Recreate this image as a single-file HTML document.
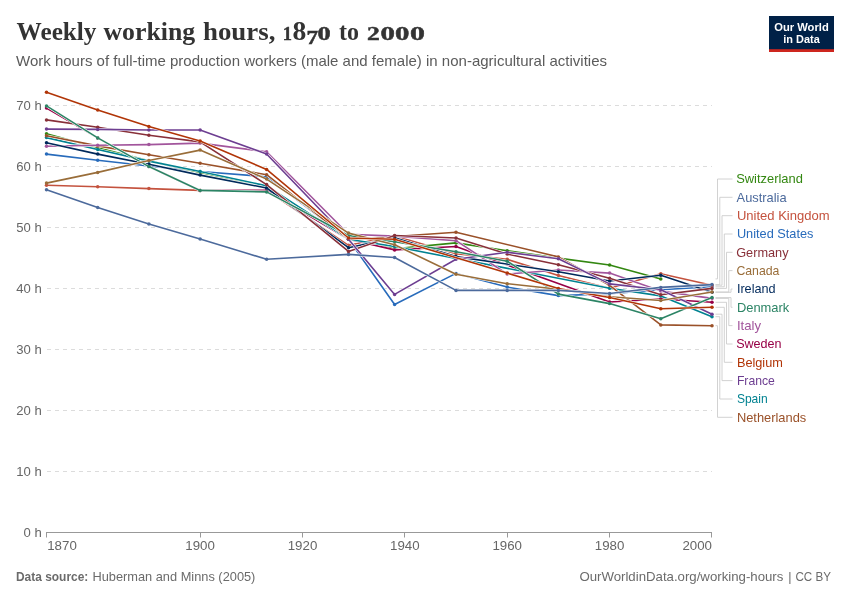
<!DOCTYPE html>
<html><head><meta charset="utf-8"><title>Weekly working hours, 1870 to 2000</title>
<style>
html,body{margin:0;padding:0;background:#fff;}
body{width:850px;height:600px;overflow:hidden;font-family:"Liberation Sans",sans-serif;}
svg{display:block;will-change:transform;}
text{font-family:"Liberation Sans",sans-serif;}
.ttl{font-family:"Liberation Serif",serif;font-weight:bold;fill:#333;}
.sub{font-size:14.6px;fill:#5b5b5b;}
.ax{font-size:13.1px;fill:#666;}
.lg{font-size:13px;}
.ft{font-size:12.6px;fill:#6b6b6b;}
</style></head><body>
<svg width="850" height="600" viewBox="0 0 850 600">
<rect width="850" height="600" fill="#fff"/>
<text class="ttl" x="16.6" y="40.0" font-size="26.2" textLength="79.9" lengthAdjust="spacingAndGlyphs">Weekly</text><text class="ttl" x="103.5" y="40.0" font-size="26.2" textLength="91.6" lengthAdjust="spacingAndGlyphs">working</text><text class="ttl" x="203.0" y="40.0" font-size="26.2" textLength="72.4" lengthAdjust="spacingAndGlyphs">hours,</text><text class="ttl" x="282.7" y="40.0" font-size="19.8" stroke="#333" stroke-width="0.45" textLength="9.2" lengthAdjust="spacingAndGlyphs">1</text><text class="ttl" x="292.6" y="40.1" font-size="27.6" textLength="13.8" lengthAdjust="spacingAndGlyphs">8</text><text class="ttl" x="306.4" y="44.0" font-size="19.8" stroke="#333" stroke-width="0.45" textLength="11.6" lengthAdjust="spacingAndGlyphs">7</text><text class="ttl" x="317.6" y="40.0" font-size="19.8" stroke="#333" stroke-width="0.45" textLength="13.2" lengthAdjust="spacingAndGlyphs">0</text><text class="ttl" x="339.0" y="40.0" font-size="26.2" textLength="20.0" lengthAdjust="spacingAndGlyphs">to</text><text class="ttl" x="367.0" y="40.0" font-size="19.8" stroke="#333" stroke-width="0.45" textLength="12.8" lengthAdjust="spacingAndGlyphs">2</text><text class="ttl" x="380.4" y="40.0" font-size="19.8" stroke="#333" stroke-width="0.45" textLength="14.4" lengthAdjust="spacingAndGlyphs">0</text><text class="ttl" x="395.1" y="40.0" font-size="19.8" stroke="#333" stroke-width="0.45" textLength="14.4" lengthAdjust="spacingAndGlyphs">0</text><text class="ttl" x="409.9" y="40.0" font-size="19.8" stroke="#333" stroke-width="0.45" textLength="14.9" lengthAdjust="spacingAndGlyphs">0</text>
<text class="sub" x="16" y="66.4" textLength="591" lengthAdjust="spacingAndGlyphs">Work hours of full-time production workers (male and female) in non-agricultural activities</text>
<g><rect x="769" y="16" width="65" height="36" fill="#002147"/><rect x="769" y="49.2" width="65" height="2.8" fill="#ce261e"/><text x="801.5" y="30.6" text-anchor="middle" font-size="11.4" font-weight="bold" fill="#fff" textLength="54.5" lengthAdjust="spacingAndGlyphs">Our World</text><text x="801.5" y="42.6" text-anchor="middle" font-size="11.4" font-weight="bold" fill="#fff" textLength="36.5" lengthAdjust="spacingAndGlyphs">in Data</text></g>
<line x1="47" x2="712" y1="471.5" y2="471.5" stroke="#dcdcdc" stroke-width="1" stroke-dasharray="4,4"/>
<line x1="47" x2="712" y1="410.5" y2="410.5" stroke="#dcdcdc" stroke-width="1" stroke-dasharray="4,4"/>
<line x1="47" x2="712" y1="349.5" y2="349.5" stroke="#dcdcdc" stroke-width="1" stroke-dasharray="4,4"/>
<line x1="47" x2="712" y1="288.5" y2="288.5" stroke="#dcdcdc" stroke-width="1" stroke-dasharray="4,4"/>
<line x1="47" x2="712" y1="227.5" y2="227.5" stroke="#dcdcdc" stroke-width="1" stroke-dasharray="4,4"/>
<line x1="47" x2="712" y1="166.5" y2="166.5" stroke="#dcdcdc" stroke-width="1" stroke-dasharray="4,4"/>
<line x1="47" x2="712" y1="105.5" y2="105.5" stroke="#dcdcdc" stroke-width="1" stroke-dasharray="4,4"/>
<text class="ax" x="41.7" y="536.5" text-anchor="end">0 h</text>
<text class="ax" x="41.7" y="475.5" text-anchor="end">10 h</text>
<text class="ax" x="41.7" y="414.5" text-anchor="end">20 h</text>
<text class="ax" x="41.7" y="353.5" text-anchor="end">30 h</text>
<text class="ax" x="41.7" y="292.5" text-anchor="end">40 h</text>
<text class="ax" x="41.7" y="231.5" text-anchor="end">50 h</text>
<text class="ax" x="41.7" y="170.5" text-anchor="end">60 h</text>
<text class="ax" x="41.7" y="109.5" text-anchor="end">70 h</text>
<line x1="46" x2="712" y1="532.5" y2="532.5" stroke="#999" stroke-width="1"/>
<line x1="46.5" x2="46.5" y1="532" y2="537.5" stroke="#999" stroke-width="1"/>
<text class="ax" x="47.2" y="550.3" text-anchor="start" textLength="29.6" lengthAdjust="spacingAndGlyphs">1870</text>
<line x1="200.5" x2="200.5" y1="532" y2="537.5" stroke="#999" stroke-width="1"/>
<text class="ax" x="200.1" y="550.3" text-anchor="middle" textLength="29.6" lengthAdjust="spacingAndGlyphs">1900</text>
<line x1="302.5" x2="302.5" y1="532" y2="537.5" stroke="#999" stroke-width="1"/>
<text class="ax" x="302.5" y="550.3" text-anchor="middle" textLength="29.6" lengthAdjust="spacingAndGlyphs">1920</text>
<line x1="404.5" x2="404.5" y1="532" y2="537.5" stroke="#999" stroke-width="1"/>
<text class="ax" x="404.8" y="550.3" text-anchor="middle" textLength="29.6" lengthAdjust="spacingAndGlyphs">1940</text>
<line x1="507.5" x2="507.5" y1="532" y2="537.5" stroke="#999" stroke-width="1"/>
<text class="ax" x="507.2" y="550.3" text-anchor="middle" textLength="29.6" lengthAdjust="spacingAndGlyphs">1960</text>
<line x1="609.5" x2="609.5" y1="532" y2="537.5" stroke="#999" stroke-width="1"/>
<text class="ax" x="609.6" y="550.3" text-anchor="middle" textLength="29.6" lengthAdjust="spacingAndGlyphs">1980</text>
<line x1="711.5" x2="711.5" y1="532" y2="537.5" stroke="#999" stroke-width="1"/>
<text class="ax" x="712.0" y="550.3" text-anchor="end" textLength="29.6" lengthAdjust="spacingAndGlyphs">2000</text>
<g><path d="M46.5,154.1 L97.7,160.2 L148.9,166.0 L200.1,171.5 L266.6,176.7 L348.5,239.2 L394.6,304.5 L456.0,273.4 L507.2,287.1 L558.4,295.6 L609.6,293.8 L660.8,289.8 L712.0,286.8" fill="none" stroke="#fff" stroke-width="2.6" stroke-linejoin="round" stroke-linecap="butt"/><path d="M46.5,154.1 L97.7,160.2 L148.9,166.0 L200.1,171.5 L266.6,176.7 L348.5,239.2 L394.6,304.5 L456.0,273.4 L507.2,287.1 L558.4,295.6 L609.6,293.8 L660.8,289.8 L712.0,286.8" fill="none" stroke="#286BBB" stroke-width="1.6" stroke-linejoin="round" stroke-linecap="butt"/><circle cx="46.5" cy="154.1" r="1.75" fill="#286BBB"/><circle cx="97.7" cy="160.2" r="1.75" fill="#286BBB"/><circle cx="148.9" cy="166.0" r="1.75" fill="#286BBB"/><circle cx="200.1" cy="171.5" r="1.75" fill="#286BBB"/><circle cx="266.6" cy="176.7" r="1.75" fill="#286BBB"/><circle cx="348.5" cy="239.2" r="1.75" fill="#286BBB"/><circle cx="394.6" cy="304.5" r="1.75" fill="#286BBB"/><circle cx="456.0" cy="273.4" r="1.75" fill="#286BBB"/><circle cx="507.2" cy="287.1" r="1.75" fill="#286BBB"/><circle cx="558.4" cy="295.6" r="1.75" fill="#286BBB"/><circle cx="609.6" cy="293.8" r="1.75" fill="#286BBB"/><circle cx="660.8" cy="289.8" r="1.75" fill="#286BBB"/><circle cx="712.0" cy="286.8" r="1.75" fill="#286BBB"/></g>
<g><path d="M46.5,185.2 L97.7,186.7 L148.9,188.6 L200.1,190.4 L266.6,190.4 L348.5,245.3 L394.6,236.1 L456.0,253.8 L507.2,259.3 L558.4,275.5 L609.6,288.2 L660.8,273.7 L712.0,285.2" fill="none" stroke="#fff" stroke-width="2.6" stroke-linejoin="round" stroke-linecap="butt"/><path d="M46.5,185.2 L97.7,186.7 L148.9,188.6 L200.1,190.4 L266.6,190.4 L348.5,245.3 L394.6,236.1 L456.0,253.8 L507.2,259.3 L558.4,275.5 L609.6,288.2 L660.8,273.7 L712.0,285.2" fill="none" stroke="#C4523E" stroke-width="1.6" stroke-linejoin="round" stroke-linecap="butt"/><circle cx="46.5" cy="185.2" r="1.75" fill="#C4523E"/><circle cx="97.7" cy="186.7" r="1.75" fill="#C4523E"/><circle cx="148.9" cy="188.6" r="1.75" fill="#C4523E"/><circle cx="200.1" cy="190.4" r="1.75" fill="#C4523E"/><circle cx="266.6" cy="190.4" r="1.75" fill="#C4523E"/><circle cx="348.5" cy="245.3" r="1.75" fill="#C4523E"/><circle cx="394.6" cy="236.1" r="1.75" fill="#C4523E"/><circle cx="456.0" cy="253.8" r="1.75" fill="#C4523E"/><circle cx="507.2" cy="259.3" r="1.75" fill="#C4523E"/><circle cx="558.4" cy="275.5" r="1.75" fill="#C4523E"/><circle cx="609.6" cy="288.2" r="1.75" fill="#C4523E"/><circle cx="660.8" cy="273.7" r="1.75" fill="#C4523E"/><circle cx="712.0" cy="285.2" r="1.75" fill="#C4523E"/></g>
<g><path d="M46.5,133.7 L97.7,147.7 L148.9,160.8 L200.1,172.4 L266.6,186.4 L348.5,239.2 L394.6,248.7 L456.0,242.9 L507.2,250.8 L558.4,258.1 L609.6,265.0 L660.8,278.9" fill="none" stroke="#fff" stroke-width="2.6" stroke-linejoin="round" stroke-linecap="butt"/><path d="M46.5,133.7 L97.7,147.7 L148.9,160.8 L200.1,172.4 L266.6,186.4 L348.5,239.2 L394.6,248.7 L456.0,242.9 L507.2,250.8 L558.4,258.1 L609.6,265.0 L660.8,278.9" fill="none" stroke="#338711" stroke-width="1.6" stroke-linejoin="round" stroke-linecap="butt"/><circle cx="46.5" cy="133.7" r="1.75" fill="#338711"/><circle cx="97.7" cy="147.7" r="1.75" fill="#338711"/><circle cx="148.9" cy="160.8" r="1.75" fill="#338711"/><circle cx="200.1" cy="172.4" r="1.75" fill="#338711"/><circle cx="266.6" cy="186.4" r="1.75" fill="#338711"/><circle cx="348.5" cy="239.2" r="1.75" fill="#338711"/><circle cx="394.6" cy="248.7" r="1.75" fill="#338711"/><circle cx="456.0" cy="242.9" r="1.75" fill="#338711"/><circle cx="507.2" cy="250.8" r="1.75" fill="#338711"/><circle cx="558.4" cy="258.1" r="1.75" fill="#338711"/><circle cx="609.6" cy="265.0" r="1.75" fill="#338711"/><circle cx="660.8" cy="278.9" r="1.75" fill="#338711"/></g>
<g><path d="M46.5,108.1 L97.7,137.9 L148.9,166.6 L200.1,190.4 L266.6,190.4 L348.5,239.2 L394.6,249.9 L456.0,246.5 L609.6,302.0 L660.8,299.0 L712.0,302.3" fill="none" stroke="#fff" stroke-width="2.6" stroke-linejoin="round" stroke-linecap="butt"/><path d="M46.5,108.1 L97.7,137.9 L148.9,166.6 L200.1,190.4 L266.6,190.4 L348.5,239.2 L394.6,249.9 L456.0,246.5 L609.6,302.0 L660.8,299.0 L712.0,302.3" fill="none" stroke="#970046" stroke-width="1.6" stroke-linejoin="round" stroke-linecap="butt"/><circle cx="46.5" cy="108.1" r="1.75" fill="#970046"/><circle cx="97.7" cy="137.9" r="1.75" fill="#970046"/><circle cx="148.9" cy="166.6" r="1.75" fill="#970046"/><circle cx="200.1" cy="190.4" r="1.75" fill="#970046"/><circle cx="266.6" cy="190.4" r="1.75" fill="#970046"/><circle cx="348.5" cy="239.2" r="1.75" fill="#970046"/><circle cx="394.6" cy="249.9" r="1.75" fill="#970046"/><circle cx="456.0" cy="246.5" r="1.75" fill="#970046"/><circle cx="609.6" cy="302.0" r="1.75" fill="#970046"/><circle cx="660.8" cy="299.0" r="1.75" fill="#970046"/><circle cx="712.0" cy="302.3" r="1.75" fill="#970046"/></g>
<g><path d="M46.5,137.6 L97.7,149.5 L148.9,161.1 L200.1,171.5 L266.6,185.8 L348.5,239.2 L394.6,246.5 L609.6,288.3 L660.8,295.9 L712.0,316.7" fill="none" stroke="#fff" stroke-width="2.6" stroke-linejoin="round" stroke-linecap="butt"/><path d="M46.5,137.6 L97.7,149.5 L148.9,161.1 L200.1,171.5 L266.6,185.8 L348.5,239.2 L394.6,246.5 L609.6,288.3 L660.8,295.9 L712.0,316.7" fill="none" stroke="#008291" stroke-width="1.6" stroke-linejoin="round" stroke-linecap="butt"/><circle cx="46.5" cy="137.6" r="1.75" fill="#008291"/><circle cx="97.7" cy="149.5" r="1.75" fill="#008291"/><circle cx="148.9" cy="161.1" r="1.75" fill="#008291"/><circle cx="200.1" cy="171.5" r="1.75" fill="#008291"/><circle cx="266.6" cy="185.8" r="1.75" fill="#008291"/><circle cx="348.5" cy="239.2" r="1.75" fill="#008291"/><circle cx="394.6" cy="246.5" r="1.75" fill="#008291"/><circle cx="609.6" cy="288.3" r="1.75" fill="#008291"/><circle cx="660.8" cy="295.9" r="1.75" fill="#008291"/><circle cx="712.0" cy="316.7" r="1.75" fill="#008291"/></g>
<g><path d="M46.5,135.8 L97.7,145.9 L148.9,154.7 L200.1,163.3 L266.6,174.7 L348.5,239.2 L394.6,236.5 L456.0,232.2 L558.4,256.9 L609.6,285.3 L660.8,324.9 L712.0,325.7" fill="none" stroke="#fff" stroke-width="2.6" stroke-linejoin="round" stroke-linecap="butt"/><path d="M46.5,135.8 L97.7,145.9 L148.9,154.7 L200.1,163.3 L266.6,174.7 L348.5,239.2 L394.6,236.5 L456.0,232.2 L558.4,256.9 L609.6,285.3 L660.8,324.9 L712.0,325.7" fill="none" stroke="#9A5129" stroke-width="1.6" stroke-linejoin="round" stroke-linecap="butt"/><circle cx="46.5" cy="135.8" r="1.75" fill="#9A5129"/><circle cx="97.7" cy="145.9" r="1.75" fill="#9A5129"/><circle cx="148.9" cy="154.7" r="1.75" fill="#9A5129"/><circle cx="200.1" cy="163.3" r="1.75" fill="#9A5129"/><circle cx="266.6" cy="174.7" r="1.75" fill="#9A5129"/><circle cx="348.5" cy="239.2" r="1.75" fill="#9A5129"/><circle cx="394.6" cy="236.5" r="1.75" fill="#9A5129"/><circle cx="456.0" cy="232.2" r="1.75" fill="#9A5129"/><circle cx="558.4" cy="256.9" r="1.75" fill="#9A5129"/><circle cx="609.6" cy="285.3" r="1.75" fill="#9A5129"/><circle cx="660.8" cy="324.9" r="1.75" fill="#9A5129"/><circle cx="712.0" cy="325.7" r="1.75" fill="#9A5129"/></g>
<g><path d="M46.5,146.2 L97.7,145.3 L148.9,144.6 L200.1,143.1 L266.6,151.7 L348.5,234.3 L394.6,236.1 L456.0,240.7 L507.2,274.0 L558.4,270.0 L609.6,273.1 L660.8,291.1 L712.0,298.4" fill="none" stroke="#fff" stroke-width="2.6" stroke-linejoin="round" stroke-linecap="butt"/><path d="M46.5,146.2 L97.7,145.3 L148.9,144.6 L200.1,143.1 L266.6,151.7 L348.5,234.3 L394.6,236.1 L456.0,240.7 L507.2,274.0 L558.4,270.0 L609.6,273.1 L660.8,291.1 L712.0,298.4" fill="none" stroke="#A2559C" stroke-width="1.6" stroke-linejoin="round" stroke-linecap="butt"/><circle cx="46.5" cy="146.2" r="1.75" fill="#A2559C"/><circle cx="97.7" cy="145.3" r="1.75" fill="#A2559C"/><circle cx="148.9" cy="144.6" r="1.75" fill="#A2559C"/><circle cx="200.1" cy="143.1" r="1.75" fill="#A2559C"/><circle cx="266.6" cy="151.7" r="1.75" fill="#A2559C"/><circle cx="348.5" cy="234.3" r="1.75" fill="#A2559C"/><circle cx="394.6" cy="236.1" r="1.75" fill="#A2559C"/><circle cx="456.0" cy="240.7" r="1.75" fill="#A2559C"/><circle cx="507.2" cy="274.0" r="1.75" fill="#A2559C"/><circle cx="558.4" cy="270.0" r="1.75" fill="#A2559C"/><circle cx="609.6" cy="273.1" r="1.75" fill="#A2559C"/><circle cx="660.8" cy="291.1" r="1.75" fill="#A2559C"/><circle cx="712.0" cy="298.4" r="1.75" fill="#A2559C"/></g>
<g><path d="M46.5,142.8 L97.7,154.1 L148.9,164.2 L200.1,175.1 L266.6,188.0 L348.5,247.7 L394.6,237.7 L456.0,256.6 L558.4,271.7 L609.6,281.0 L660.8,275.2 L712.0,292.3" fill="none" stroke="#fff" stroke-width="2.6" stroke-linejoin="round" stroke-linecap="butt"/><path d="M46.5,142.8 L97.7,154.1 L148.9,164.2 L200.1,175.1 L266.6,188.0 L348.5,247.7 L394.6,237.7 L456.0,256.6 L558.4,271.7 L609.6,281.0 L660.8,275.2 L712.0,292.3" fill="none" stroke="#00295B" stroke-width="1.6" stroke-linejoin="round" stroke-linecap="butt"/><circle cx="46.5" cy="142.8" r="1.75" fill="#00295B"/><circle cx="97.7" cy="154.1" r="1.75" fill="#00295B"/><circle cx="148.9" cy="164.2" r="1.75" fill="#00295B"/><circle cx="200.1" cy="175.1" r="1.75" fill="#00295B"/><circle cx="266.6" cy="188.0" r="1.75" fill="#00295B"/><circle cx="348.5" cy="247.7" r="1.75" fill="#00295B"/><circle cx="394.6" cy="237.7" r="1.75" fill="#00295B"/><circle cx="456.0" cy="256.6" r="1.75" fill="#00295B"/><circle cx="558.4" cy="271.7" r="1.75" fill="#00295B"/><circle cx="609.6" cy="281.0" r="1.75" fill="#00295B"/><circle cx="660.8" cy="275.2" r="1.75" fill="#00295B"/><circle cx="712.0" cy="292.3" r="1.75" fill="#00295B"/></g>
<g><path d="M46.5,119.9 L97.7,127.3 L148.9,135.2 L200.1,141.9 L266.6,184.6 L348.5,251.4 L394.6,235.5 L456.0,238.0 L507.2,254.1 L558.4,264.8 L609.6,278.2 L660.8,294.7 L712.0,288.4" fill="none" stroke="#fff" stroke-width="2.6" stroke-linejoin="round" stroke-linecap="butt"/><path d="M46.5,119.9 L97.7,127.3 L148.9,135.2 L200.1,141.9 L266.6,184.6 L348.5,251.4 L394.6,235.5 L456.0,238.0 L507.2,254.1 L558.4,264.8 L609.6,278.2 L660.8,294.7 L712.0,288.4" fill="none" stroke="#883039" stroke-width="1.6" stroke-linejoin="round" stroke-linecap="butt"/><circle cx="46.5" cy="119.9" r="1.75" fill="#883039"/><circle cx="97.7" cy="127.3" r="1.75" fill="#883039"/><circle cx="148.9" cy="135.2" r="1.75" fill="#883039"/><circle cx="200.1" cy="141.9" r="1.75" fill="#883039"/><circle cx="266.6" cy="184.6" r="1.75" fill="#883039"/><circle cx="348.5" cy="251.4" r="1.75" fill="#883039"/><circle cx="394.6" cy="235.5" r="1.75" fill="#883039"/><circle cx="456.0" cy="238.0" r="1.75" fill="#883039"/><circle cx="507.2" cy="254.1" r="1.75" fill="#883039"/><circle cx="558.4" cy="264.8" r="1.75" fill="#883039"/><circle cx="609.6" cy="278.2" r="1.75" fill="#883039"/><circle cx="660.8" cy="294.7" r="1.75" fill="#883039"/><circle cx="712.0" cy="288.4" r="1.75" fill="#883039"/></g>
<g><path d="M46.5,129.1 L97.7,129.4 L148.9,130.0 L200.1,130.0 L266.6,154.0 L348.5,239.2 L394.6,294.4 L456.0,259.3 L507.2,252.3 L558.4,258.7 L609.6,283.9 L660.8,289.8 L712.0,314.2" fill="none" stroke="#fff" stroke-width="2.6" stroke-linejoin="round" stroke-linecap="butt"/><path d="M46.5,129.1 L97.7,129.4 L148.9,130.0 L200.1,130.0 L266.6,154.0 L348.5,239.2 L394.6,294.4 L456.0,259.3 L507.2,252.3 L558.4,258.7 L609.6,283.9 L660.8,289.8 L712.0,314.2" fill="none" stroke="#6D3E91" stroke-width="1.6" stroke-linejoin="round" stroke-linecap="butt"/><circle cx="46.5" cy="129.1" r="1.75" fill="#6D3E91"/><circle cx="97.7" cy="129.4" r="1.75" fill="#6D3E91"/><circle cx="148.9" cy="130.0" r="1.75" fill="#6D3E91"/><circle cx="200.1" cy="130.0" r="1.75" fill="#6D3E91"/><circle cx="266.6" cy="154.0" r="1.75" fill="#6D3E91"/><circle cx="348.5" cy="239.2" r="1.75" fill="#6D3E91"/><circle cx="394.6" cy="294.4" r="1.75" fill="#6D3E91"/><circle cx="456.0" cy="259.3" r="1.75" fill="#6D3E91"/><circle cx="507.2" cy="252.3" r="1.75" fill="#6D3E91"/><circle cx="558.4" cy="258.7" r="1.75" fill="#6D3E91"/><circle cx="609.6" cy="283.9" r="1.75" fill="#6D3E91"/><circle cx="660.8" cy="289.8" r="1.75" fill="#6D3E91"/><circle cx="712.0" cy="314.2" r="1.75" fill="#6D3E91"/></g>
<g><path d="M46.5,105.9 L97.7,137.9 L148.9,166.6 L200.1,190.4 L266.6,191.9 L348.5,235.5 L394.6,241.6 L456.0,251.7 L507.2,261.2 L558.4,294.1 L609.6,303.6 L660.8,318.8 L712.0,297.6" fill="none" stroke="#fff" stroke-width="2.6" stroke-linejoin="round" stroke-linecap="butt"/><path d="M46.5,105.9 L97.7,137.9 L148.9,166.6 L200.1,190.4 L266.6,191.9 L348.5,235.5 L394.6,241.6 L456.0,251.7 L507.2,261.2 L558.4,294.1 L609.6,303.6 L660.8,318.8 L712.0,297.6" fill="none" stroke="#2C8465" stroke-width="1.6" stroke-linejoin="round" stroke-linecap="butt"/><circle cx="46.5" cy="105.9" r="1.75" fill="#2C8465"/><circle cx="97.7" cy="137.9" r="1.75" fill="#2C8465"/><circle cx="148.9" cy="166.6" r="1.75" fill="#2C8465"/><circle cx="200.1" cy="190.4" r="1.75" fill="#2C8465"/><circle cx="266.6" cy="191.9" r="1.75" fill="#2C8465"/><circle cx="348.5" cy="235.5" r="1.75" fill="#2C8465"/><circle cx="394.6" cy="241.6" r="1.75" fill="#2C8465"/><circle cx="456.0" cy="251.7" r="1.75" fill="#2C8465"/><circle cx="507.2" cy="261.2" r="1.75" fill="#2C8465"/><circle cx="558.4" cy="294.1" r="1.75" fill="#2C8465"/><circle cx="609.6" cy="303.6" r="1.75" fill="#2C8465"/><circle cx="660.8" cy="318.8" r="1.75" fill="#2C8465"/><circle cx="712.0" cy="297.6" r="1.75" fill="#2C8465"/></g>
<g><path d="M46.5,183.1 L97.7,172.4 L148.9,160.5 L200.1,150.1 L266.6,179.1 L348.5,233.1 L394.6,244.7 L456.0,274.3 L507.2,283.7 L558.4,289.2 L609.6,296.8 L660.8,300.5 L712.0,292.0" fill="none" stroke="#fff" stroke-width="2.6" stroke-linejoin="round" stroke-linecap="butt"/><path d="M46.5,183.1 L97.7,172.4 L148.9,160.5 L200.1,150.1 L266.6,179.1 L348.5,233.1 L394.6,244.7 L456.0,274.3 L507.2,283.7 L558.4,289.2 L609.6,296.8 L660.8,300.5 L712.0,292.0" fill="none" stroke="#996D39" stroke-width="1.6" stroke-linejoin="round" stroke-linecap="butt"/><circle cx="46.5" cy="183.1" r="1.75" fill="#996D39"/><circle cx="97.7" cy="172.4" r="1.75" fill="#996D39"/><circle cx="148.9" cy="160.5" r="1.75" fill="#996D39"/><circle cx="200.1" cy="150.1" r="1.75" fill="#996D39"/><circle cx="266.6" cy="179.1" r="1.75" fill="#996D39"/><circle cx="348.5" cy="233.1" r="1.75" fill="#996D39"/><circle cx="394.6" cy="244.7" r="1.75" fill="#996D39"/><circle cx="456.0" cy="274.3" r="1.75" fill="#996D39"/><circle cx="507.2" cy="283.7" r="1.75" fill="#996D39"/><circle cx="558.4" cy="289.2" r="1.75" fill="#996D39"/><circle cx="609.6" cy="296.8" r="1.75" fill="#996D39"/><circle cx="660.8" cy="300.5" r="1.75" fill="#996D39"/><circle cx="712.0" cy="292.0" r="1.75" fill="#996D39"/></g>
<g><path d="M46.5,92.2 L97.7,109.9 L148.9,126.4 L200.1,141.0 L266.6,169.4 L348.5,238.0 L394.6,239.2 L507.2,273.1 L558.4,288.6 L609.6,297.5 L660.8,308.7 L712.0,307.3" fill="none" stroke="#fff" stroke-width="2.6" stroke-linejoin="round" stroke-linecap="butt"/><path d="M46.5,92.2 L97.7,109.9 L148.9,126.4 L200.1,141.0 L266.6,169.4 L348.5,238.0 L394.6,239.2 L507.2,273.1 L558.4,288.6 L609.6,297.5 L660.8,308.7 L712.0,307.3" fill="none" stroke="#B13507" stroke-width="1.6" stroke-linejoin="round" stroke-linecap="butt"/><circle cx="46.5" cy="92.2" r="1.75" fill="#B13507"/><circle cx="97.7" cy="109.9" r="1.75" fill="#B13507"/><circle cx="148.9" cy="126.4" r="1.75" fill="#B13507"/><circle cx="200.1" cy="141.0" r="1.75" fill="#B13507"/><circle cx="266.6" cy="169.4" r="1.75" fill="#B13507"/><circle cx="348.5" cy="238.0" r="1.75" fill="#B13507"/><circle cx="394.6" cy="239.2" r="1.75" fill="#B13507"/><circle cx="507.2" cy="273.1" r="1.75" fill="#B13507"/><circle cx="558.4" cy="288.6" r="1.75" fill="#B13507"/><circle cx="609.6" cy="297.5" r="1.75" fill="#B13507"/><circle cx="660.8" cy="308.7" r="1.75" fill="#B13507"/><circle cx="712.0" cy="307.3" r="1.75" fill="#B13507"/></g>
<g><path d="M46.5,189.8 L97.7,207.5 L148.9,223.9 L200.1,238.9 L266.6,259.3 L348.5,254.4 L394.6,257.5 L456.0,290.4 L507.2,290.4 L558.4,290.4 L609.6,293.5 L660.8,287.4 L712.0,284.6" fill="none" stroke="#fff" stroke-width="2.6" stroke-linejoin="round" stroke-linecap="butt"/><path d="M46.5,189.8 L97.7,207.5 L148.9,223.9 L200.1,238.9 L266.6,259.3 L348.5,254.4 L394.6,257.5 L456.0,290.4 L507.2,290.4 L558.4,290.4 L609.6,293.5 L660.8,287.4 L712.0,284.6" fill="none" stroke="#4C6A9C" stroke-width="1.6" stroke-linejoin="round" stroke-linecap="butt"/><circle cx="46.5" cy="189.8" r="1.75" fill="#4C6A9C"/><circle cx="97.7" cy="207.5" r="1.75" fill="#4C6A9C"/><circle cx="148.9" cy="223.9" r="1.75" fill="#4C6A9C"/><circle cx="200.1" cy="238.9" r="1.75" fill="#4C6A9C"/><circle cx="266.6" cy="259.3" r="1.75" fill="#4C6A9C"/><circle cx="348.5" cy="254.4" r="1.75" fill="#4C6A9C"/><circle cx="394.6" cy="257.5" r="1.75" fill="#4C6A9C"/><circle cx="456.0" cy="290.4" r="1.75" fill="#4C6A9C"/><circle cx="507.2" cy="290.4" r="1.75" fill="#4C6A9C"/><circle cx="558.4" cy="290.4" r="1.75" fill="#4C6A9C"/><circle cx="609.6" cy="293.5" r="1.75" fill="#4C6A9C"/><circle cx="660.8" cy="287.4" r="1.75" fill="#4C6A9C"/><circle cx="712.0" cy="284.6" r="1.75" fill="#4C6A9C"/></g>
<path d="M715.5,278.9 H717.5 V179.0 H732.5" fill="none" stroke="#cdcdcd" stroke-width="0.9"/><text class="lg" x="736.20" y="183.4" fill="#338711" textLength="66.7" lengthAdjust="spacingAndGlyphs">Switzerland</text>
<path d="M715.5,284.6 H719.8 V197.3 H732.5" fill="none" stroke="#cdcdcd" stroke-width="0.9"/><text class="lg" x="736.60" y="201.8" fill="#4C6A9C" textLength="50.0" lengthAdjust="spacingAndGlyphs">Australia</text>
<path d="M715.5,285.2 H722.0 V215.7 H732.5" fill="none" stroke="#cdcdcd" stroke-width="0.9"/><text class="lg" x="736.90" y="220.1" fill="#C4523E" textLength="92.7" lengthAdjust="spacingAndGlyphs">United Kingdom</text>
<path d="M715.5,286.8 H724.3 V234.0 H732.5" fill="none" stroke="#cdcdcd" stroke-width="0.9"/><text class="lg" x="736.90" y="238.4" fill="#286BBB" textLength="76.6" lengthAdjust="spacingAndGlyphs">United States</text>
<path d="M715.5,288.4 H726.5 V252.3 H732.5" fill="none" stroke="#cdcdcd" stroke-width="0.9"/><text class="lg" x="736.15" y="256.8" fill="#883039" textLength="52.4" lengthAdjust="spacingAndGlyphs">Germany</text>
<path d="M715.5,292.0 H728.8 V270.6 H732.5" fill="none" stroke="#cdcdcd" stroke-width="0.9"/><text class="lg" x="736.43" y="275.1" fill="#996D39" textLength="43.0" lengthAdjust="spacingAndGlyphs">Canada</text>
<path d="M715.5,292.3 H731.0 V289.0 H732.5" fill="none" stroke="#cdcdcd" stroke-width="0.9"/><text class="lg" x="736.90" y="293.4" fill="#00295B" textLength="38.7" lengthAdjust="spacingAndGlyphs">Ireland</text>
<path d="M715.5,297.6 H731.0 V307.3 H732.5" fill="none" stroke="#cdcdcd" stroke-width="0.9"/><text class="lg" x="736.90" y="311.8" fill="#2C8465" textLength="52.4" lengthAdjust="spacingAndGlyphs">Denmark</text>
<path d="M715.5,298.4 H728.8 V325.6 H732.5" fill="none" stroke="#cdcdcd" stroke-width="0.9"/><text class="lg" x="736.90" y="330.1" fill="#A2559C" textLength="24.1" lengthAdjust="spacingAndGlyphs">Italy</text>
<path d="M715.5,302.3 H726.5 V344.0 H732.5" fill="none" stroke="#cdcdcd" stroke-width="0.9"/><text class="lg" x="736.15" y="348.4" fill="#970046" textLength="45.4" lengthAdjust="spacingAndGlyphs">Sweden</text>
<path d="M715.5,307.3 H724.3 V362.3 H732.5" fill="none" stroke="#cdcdcd" stroke-width="0.9"/><text class="lg" x="736.90" y="366.7" fill="#B13507" textLength="46.0" lengthAdjust="spacingAndGlyphs">Belgium</text>
<path d="M715.5,314.2 H722.0 V380.6 H732.5" fill="none" stroke="#cdcdcd" stroke-width="0.9"/><text class="lg" x="736.90" y="385.1" fill="#6D3E91" textLength="38.0" lengthAdjust="spacingAndGlyphs">France</text>
<path d="M715.5,316.7 H719.8 V399.0 H732.5" fill="none" stroke="#cdcdcd" stroke-width="0.9"/><text class="lg" x="736.90" y="403.4" fill="#008291" textLength="30.8" lengthAdjust="spacingAndGlyphs">Spain</text>
<path d="M715.5,325.7 H717.5 V417.3 H732.5" fill="none" stroke="#cdcdcd" stroke-width="0.9"/><text class="lg" x="736.90" y="421.7" fill="#9A5129" textLength="69.4" lengthAdjust="spacingAndGlyphs">Netherlands</text>
<text class="ft" x="16" y="580.7" font-weight="bold" fill="#5b5b5b" textLength="72.3" lengthAdjust="spacingAndGlyphs">Data source:</text>
<text class="ft" x="92.4" y="580.7" textLength="163" lengthAdjust="spacingAndGlyphs">Huberman and Minns (2005)</text>
<text class="ft" x="579.4" y="580.7" textLength="204" lengthAdjust="spacingAndGlyphs">OurWorldinData.org/working-hours</text><text class="ft" x="788.2" y="580.7">|</text><text class="ft" x="795.4" y="580.7" textLength="35.6" lengthAdjust="spacingAndGlyphs">CC BY</text>
</svg></body></html>
